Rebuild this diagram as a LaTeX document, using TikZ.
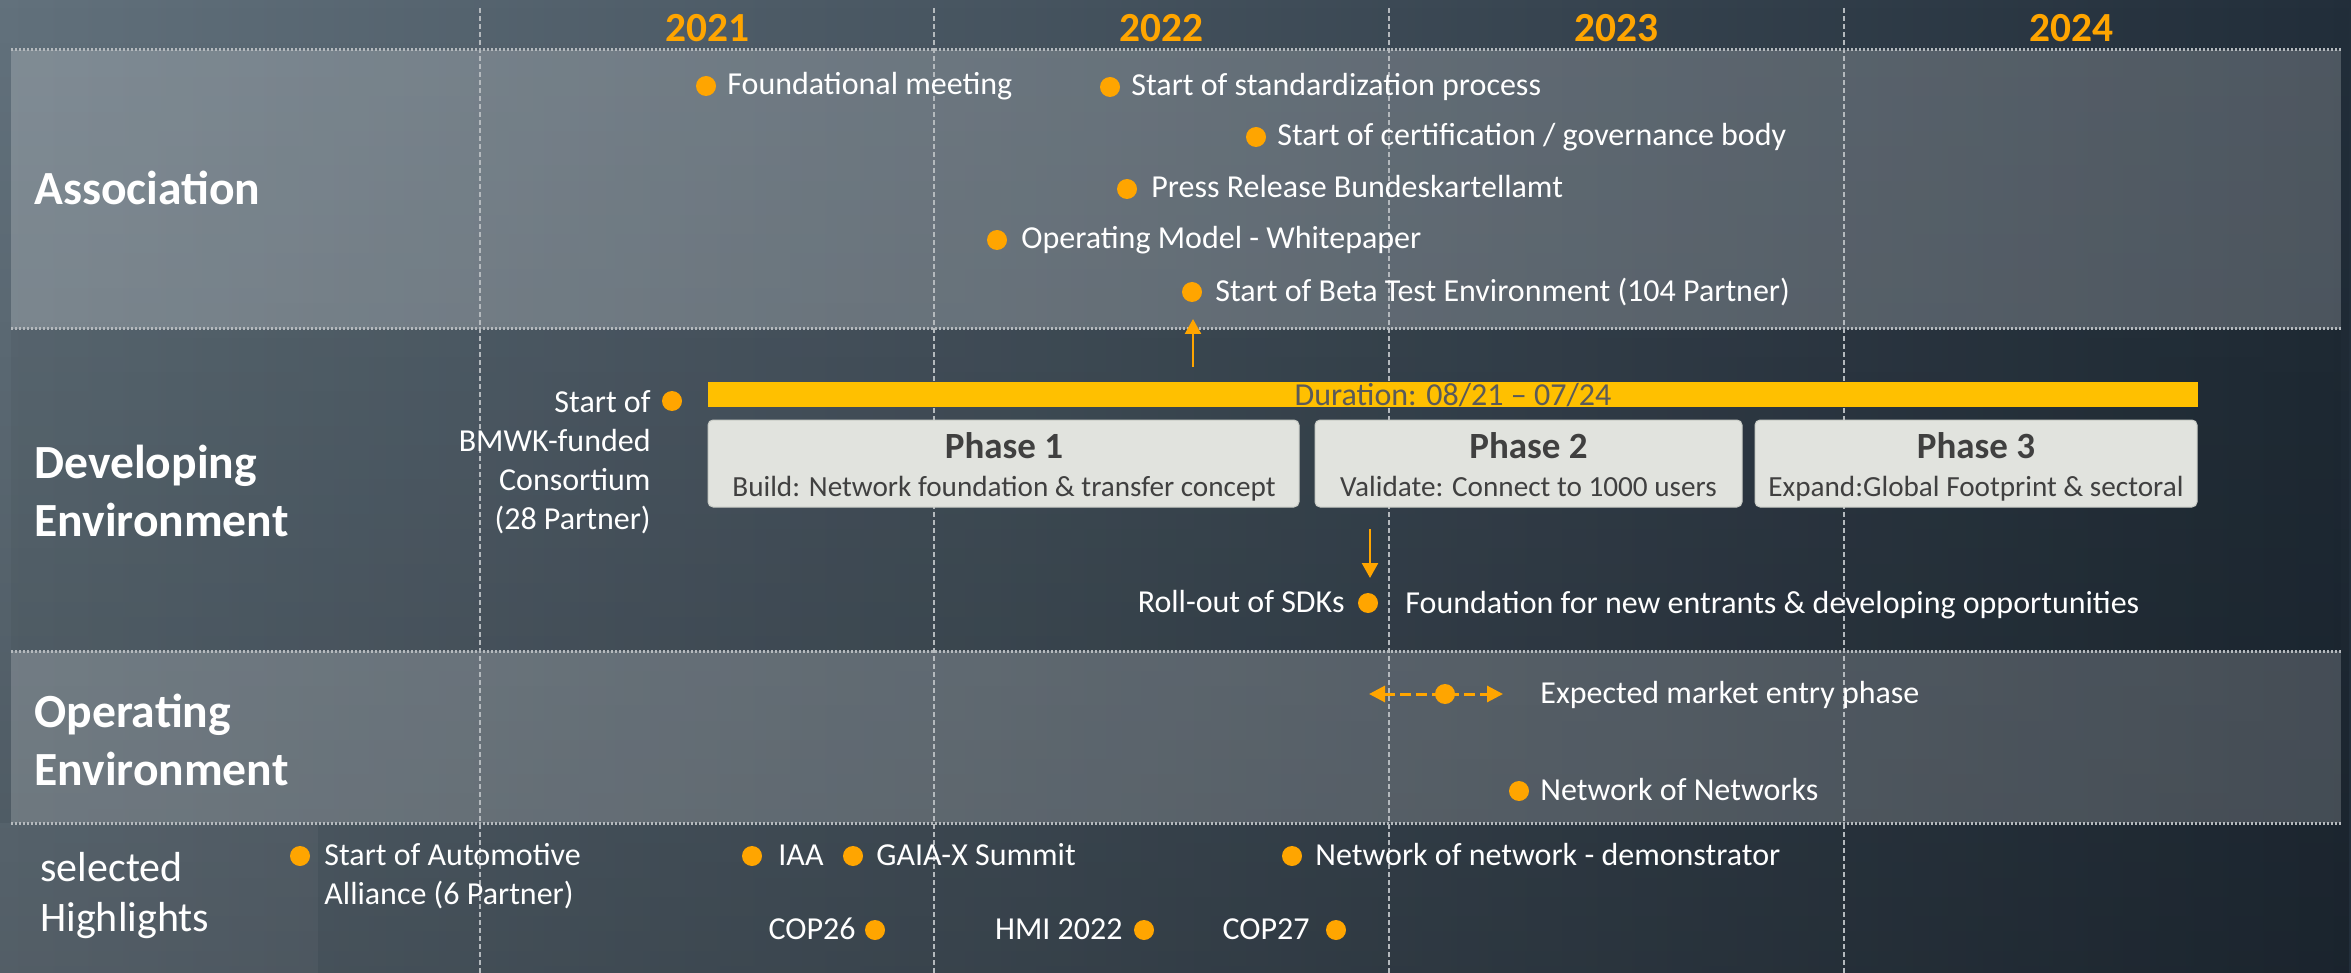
\documentclass[tikz,border=0pt]{standalone}
\usepackage{fontspec}
\setmainfont{Carlito}
\usetikzlibrary{arrows.meta,fadings}
\definecolor{bgL}{HTML}{62717C}
\definecolor{bgR}{HTML}{222E3A}
\definecolor{evorange}{HTML}{FFA500}
\definecolor{baryellow}{HTML}{FFC000}
\definecolor{phasefill}{HTML}{E1E3DE}
\definecolor{phaseedge}{HTML}{C9CCC6}
\definecolor{phasetext}{HTML}{404040}
\definecolor{gridgray}{HTML}{B4B9BD}
\definecolor{durtext}{HTML}{5A5A5A}
\tikzset{
 evdot/.style={circle, fill=evorange, draw=none, minimum size=10pt, inner sep=0pt},
 evtext/.style={text=white, font=\fontsize{16}{19.5}\selectfont, inner sep=0pt},
 rowlabel/.style={text=white, font=\fontsize{23.8}{29}\selectfont\bfseries, inner sep=0pt, align=left},
 hllabel/.style={text=white, font=\fontsize{21}{25}\selectfont, inner sep=0pt, align=left},
 yearlabel/.style={text=evorange, font=\fontsize{20.7}{24}\selectfont\bfseries, inner sep=0pt},
 phasebox/.style={fill=phasefill, draw=phaseedge, line width=0.5pt, rounded corners=2.5pt, inner sep=0pt},
 phasetitle/.style={text=phasetext, font=\fontsize{18.5}{22}\selectfont\bfseries, inner sep=0pt},
 phasesub/.style={text=phasetext, font=\fontsize{14.6}{17}\selectfont, inner sep=0pt},
 gridline/.style={gridgray, line width=1pt, dash pattern=on 2.5pt off 1.5pt},
 bandline/.style={gridgray, line width=1.5pt, dash pattern=on 1pt off 1pt},
 evarrow/.style={evorange, line width=1.2pt, -{Triangle[length=7.5pt,width=8pt]}},
 mkarrow/.style={evorange, line width=1.5pt, dash pattern=on 5.5pt off 2.5pt,
   {Triangle[length=8pt,width=8pt]}-{Triangle[length=8pt,width=8pt]}},
}
\newcommand\evR[5]{\node[evdot] (#1) at (#2,#3) {};
  \node[evtext, anchor=base west] (#1-t) at ([xshift=#4, yshift=-4.5pt]#1.center) {#5};}
\newcommand\evL[5]{\node[evdot] (#1) at (#2,#3) {};
  \node[evtext, anchor=base east] (#1-t) at ([xshift=-#4, yshift=-4.5pt]#1.center) {#5};}
\begin{document}
\begin{tikzpicture}[x=0.5pt, y=-0.5pt]
\useasboundingbox (0,0) rectangle (2351,973);
% background
\shade[left color=bgL, right color=bgR] (0,0) rectangle (2351,973);
\fill[black, path fading=north, fill opacity=0.22] (0,0) rectangle (2351,973);
% bands
\fill[white, fill opacity=0.2] (11,50) rectangle (2341,329);
\fill[black, fill opacity=0.04] (11,329) rectangle (2341,651);
\fill[white, fill opacity=0.18] (11,651) rectangle (2341,823);
\fill[white, fill opacity=0.04] (0,823) rectangle (318,973);
% grid
\foreach \gx in {480,934,1389,1844} \draw[gridline] (\gx,8) -- (\gx,973);
\foreach \gy in {50,329,651,823} \draw[bandline] (11,\gy) -- (2341,\gy);
% years
\node[yearlabel, anchor=base] (y21) at (707,42) {2021};
\node[yearlabel, anchor=base] (y22) at (1161.5,42) {2022};
\node[yearlabel, anchor=base] (y23) at (1616.5,42) {2023};
\node[yearlabel, anchor=base] (y24) at (2071.5,42) {2024};
% row labels (base anchor = baseline of last line)
\node[rowlabel, anchor=base west] (assoc) at (34,205) {Association};
\node[rowlabel, anchor=base west] (devel) at (34,536) {Developing\\Environment};
\node[rowlabel, anchor=base west] (oper) at (34,785) {Operating\\Environment};
\node[hllabel, anchor=base west] (hl) at (40,931) {selected\\Highlights};
% association events
\evR{found}{706}{86}{10.5pt}{Foundational meeting}
\evR{std}{1110}{87}{10.5pt}{Start of standardization process}
\evR{cert}{1256}{137}{10.5pt}{Start of certification / governance body}
\evR{press}{1127}{189}{12pt}{Press Release Bundeskartellamt}
\evR{opm}{997}{240}{12pt}{Operating Model - Whitepaper}
\evR{beta}{1192}{292}{11.5pt}{Start of Beta Test Environment (104 Partner)}
% developing
\node[evdot] (bmwk) at (672,401) {};
\node[evtext, align=right, anchor=base east] (bmwk-t) at (651,529) {Start of\\BMWK-funded\\Consortium\\(28 Partner)};
\node[fill=baryellow, minimum width=745pt, minimum height=12.5pt, inner sep=0pt] (bar) at (1453,394.5) {};
\node[evtext, text=durtext, anchor=base] (dur) at (1453,405) {Duration: 08/21 – 07/24};
\node[phasebox, minimum width=295.5pt, minimum height=43.5pt] (p1) at (1003.5,463.5) {};
\node[phasebox, minimum width=213.5pt, minimum height=43.5pt] (p2) at (1528.5,463.5) {};
\node[phasebox, minimum width=221pt, minimum height=43.5pt] (p3) at (1976,463.5) {};
\node[phasetitle, anchor=base] (p1t) at (1004,458) {Phase 1};
\node[phasesub, anchor=base] (p1s) at (1004,496) {Build: Network foundation \& transfer concept};
\node[phasetitle, anchor=base] (p2t) at (1528.5,458) {Phase 2};
\node[phasesub, anchor=base] (p2s) at (1528.5,496) {Validate: Connect to 1000 users};
\node[phasetitle, anchor=base] (p3t) at (1976,458) {Phase 3};
\node[phasesub, anchor=base] (p3s) at (1976,496) {Expand:Global Footprint \& sectoral};
\coordinate (upS) at (1193,367);
\coordinate (upE) at (1193,319);
\draw[evarrow] (upS) -- (upE);
\coordinate (dnS) at (1370,529);
\coordinate (dnE) at (1370,578);
\draw[evarrow] (dnS) -- (dnE);
\evL{sdk}{1368}{603}{11.5pt}{Roll-out of SDKs}
\node[evtext, anchor=base west] (fnd) at ([xshift=18.5pt, yshift=-5pt]sdk.center) {Foundation for new entrants \& developing opportunities};
% operating
\coordinate (mkL) at (1369,694);
\coordinate (mkR) at (1503,694);
\draw[mkarrow] (mkL) -- (mkR);
\node[evdot] (mkt) at (1445,694) {};
\node[evtext, anchor=base west] (mkt-t) at (1540,703) {Expected market entry phase};
\evR{non}{1519}{791}{10.5pt}{Network of Networks}
% highlights
\node[evdot] (auto) at (300,856) {};
\node[evtext, align=left, anchor=base west] (auto-t) at (324,904) {Start of Automotive\\Alliance (6 Partner)};
\evR{iaa}{752}{856}{13pt}{IAA}
\evR{gaia}{853}{856}{11.5pt}{GAIA-X Summit}
\evR{nodemo}{1292}{856}{11.5pt}{Network of network - demonstrator}
\evL{cop26}{875}{930}{9.5pt}{COP26}
\evL{hmi}{1144}{930}{10.5pt}{HMI 2022}
\evL{cop27}{1336}{930}{13pt}{COP27}
\end{tikzpicture}
\end{document}
